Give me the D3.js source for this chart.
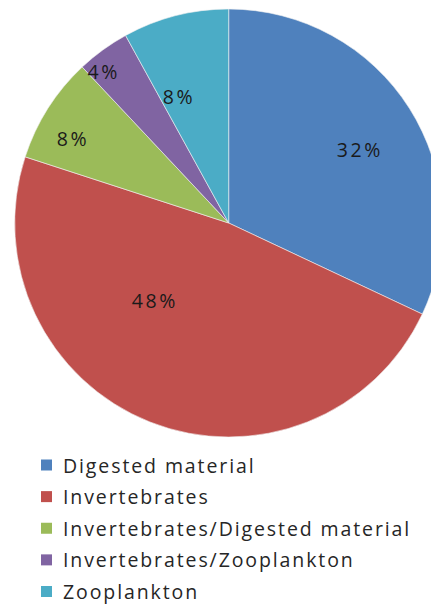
<!DOCTYPE html>
<html>
<head>
<meta charset="utf-8">
<script src="https://cdn.jsdelivr.net/npm/d3@7"></script>
<style>
  html, body { margin: 0; padding: 0; background: #fff; }
  svg { display: block; }
</style>
</head>
<body>
<script>
// Diet categories and their share (%) of individuals
const categories = [
  "Digested material",
  "Invertebrates",
  "Invertebrates/Digested material",
  "Invertebrates/Zooplankton",
  "Zooplankton"
];
const shares = [32, 48, 8, 4, 8];
const sliceLabels = ["32%", "48%", "8%", "4%", "8%"];
const sliceColors = ["#4F81BD", "#C0504D", "#9BBB59", "#8064A2", "#4BACC6"];

// Label placement inside each slice: [fraction along the slice's angle, fraction of radius]
const labelPlacement = [[0.526, 0.704], [0.627, 0.50], [0.368, 0.829], [0.26, 0.919], [0.257, 0.637]];

const W = 431, H = 604;
const cx = 228.7, cy = 223, R = 214;

const svg = d3.select("body").append("svg")
  .attr("width", W).attr("height", H)
  .attr("viewBox", `0 0 ${W} ${H}`);

const data = categories.map((c, i) => ({ name: c, value: shares[i], label: sliceLabels[i], color: sliceColors[i], place: labelPlacement[i] }));

const pie = d3.pie().value(d => d.value).sort(null);
const arc = d3.arc().innerRadius(0).outerRadius(R);
const arcs = pie(data);

const g = svg.append("g").attr("transform", `translate(${cx},${cy})`);

g.selectAll("path.slice")
  .data(arcs)
  .join("path")
  .attr("class", "slice")
  .attr("d", arc)
  .attr("fill", d => d.data.color)
  .attr("stroke", "#f2f2f2")
  .attr("stroke-width", 0.6);

g.selectAll("text.pct")
  .data(arcs)
  .join("text")
  .attr("class", "pct")
  .attr("x", d => {
    const a = d.startAngle + (d.endAngle - d.startAngle) * d.data.place[0];
    return Math.sin(a) * R * d.data.place[1];
  })
  .attr("y", d => {
    const a = d.startAngle + (d.endAngle - d.startAngle) * d.data.place[0];
    return -Math.cos(a) * R * d.data.place[1];
  })
  .attr("text-anchor", "middle")
  .attr("dominant-baseline", "central")
  .attr("font-family", "'Open Sans', 'DejaVu Sans', sans-serif")
  .attr("font-size", 19.5)
  .attr("letter-spacing", 2.6)
  .attr("fill", "#1a1a1a")
  .text(d => d.data.label);

// Legend
const legend = svg.append("g").attr("transform", "translate(41,0)");
const rowY = d3.scalePoint().domain(categories).range([465, 591.5]);

const rows = legend.selectAll("g.row")
  .data(data)
  .join("g")
  .attr("class", "row")
  .attr("transform", d => `translate(0,${rowY(d.name)})`);

rows.append("rect")
  .attr("x", 0).attr("y", -5.5)
  .attr("width", 11).attr("height", 11)
  .attr("fill", d => d.color);

rows.append("text")
  .attr("x", 22)
  .attr("y", 0)
  .attr("dominant-baseline", "central")
  .attr("font-family", "'Open Sans', 'DejaVu Sans', sans-serif")
  .attr("font-size", 19.5)
  .attr("letter-spacing", 1.9)
  .attr("fill", "#262626")
  .text(d => d.name);
</script>
</body>
</html>
